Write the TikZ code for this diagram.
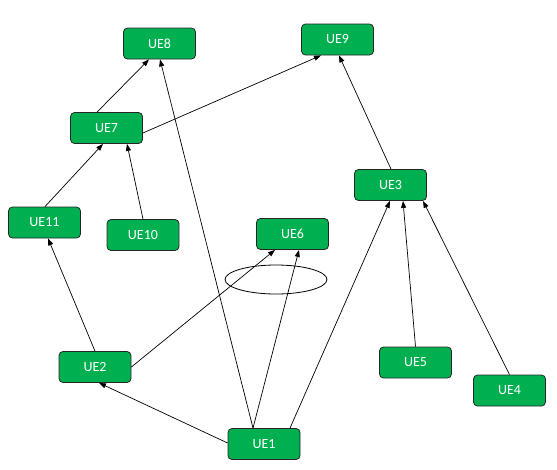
\documentclass[tikz,border=0pt]{standalone}
\usepackage{fontspec}
\setmainfont{Carlito}
\usetikzlibrary{calc,shapes.geometric,arrows.meta}
\definecolor{uegreen}{RGB}{0,176,80}
\begin{document}
\begin{tikzpicture}[x=1pt,y=-1pt,
  ue/.style={draw=black!85,line width=0.8pt,fill=uegreen,rounded corners=4pt,
    minimum width=72pt,minimum height=31pt,inner sep=0pt,text=white,font=\fontsize{14}{16}\selectfont},
  link/.style={draw=black,line width=0.7pt,-{Triangle[length=7pt,width=5pt]}}]
\useasboundingbox (0,0) rectangle (557,469);
\node[ue] (UE8) at (159.5,43.5) {UE8};
\node[ue] (UE9) at (337.5,39.5) {UE9};
\node[ue] (UE7) at (106.5,128) {UE7};
\node[ue] (UE3) at (390.5,185) {UE3};
\node[ue] (UE11) at (44.5,222.5) {UE11};
\node[ue] (UE10) at (143,235) {UE10};
\node[ue] (UE6) at (292.5,234) {UE6};
\node[ue] (UE2) at (95,367) {UE2};
\node[ue] (UE5) at (415.5,362.5) {UE5};
\node[ue] (UE4) at (509.5,390.5) {UE4};
\node[ue] (UE1) at (264,444) {UE1};
\node[draw=black,line width=0.8pt,ellipse,minimum width=102pt,minimum height=29pt,inner sep=0pt] (ell) at (276,279.5) {};
\draw[link] ($(UE7.north)+(-9.5,0)$) -- ($(UE8.south)+(-10.5,0)$);
\draw[link] ($(UE1.north)+(-11,0)$) -- ($(UE8.south)+(0.5,0)$);
\draw[link] ($(UE7.east)+(0,5)$) -- ($(UE9.south)+(-16.5,0)$);
\draw[link] ($(UE3.north)+(0.5,0)$) -- ($(UE9.south)+(1.5,0)$);
\draw[link] ($(UE11.north)+(0.5,0)$) -- ($(UE7.south)+(-3.5,0)$);
\draw[link] (UE10.north) -- ($(UE7.south)+(20.5,0)$);
\draw[link] (UE2.north) -- ($(UE11.south)+(3.5,0)$);
\draw[link] (UE2.east) -- ($(UE6.south)+(-17.5,0)$);
\draw[link] ($(UE1.west)+(0,-1)$) -- ($(UE2.south)+(4,0)$);
\draw[link] ($(UE1.north)+(-11,0)$) -- ($(UE6.south)+(6.5,0)$);
\draw[link] ($(UE1.north)+(26,0)$) -- ($(UE3.south)+(-0.5,0)$);
\draw[link] (UE5.north) -- ($(UE3.south)+(12.5,0)$);
\draw[link] (UE4.north) -- ($(UE3.south)+(32.5,0)$);
\end{tikzpicture}
\end{document}
